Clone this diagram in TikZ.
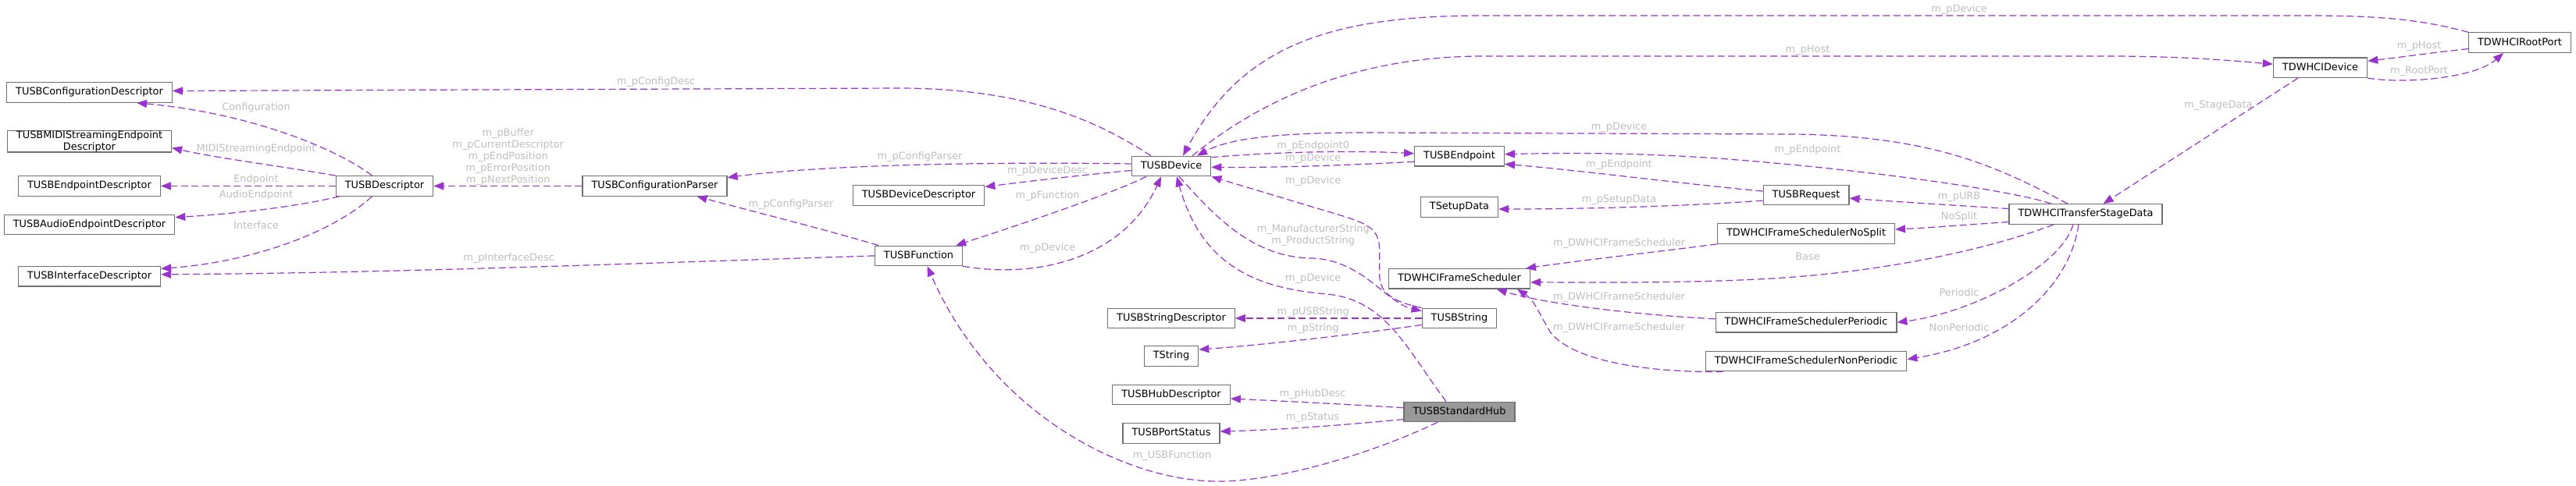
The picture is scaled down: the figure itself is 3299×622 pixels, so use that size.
\documentclass[tikz,border=0pt]{standalone}
\usepackage{fontspec}
\setmainfont{DejaVu Sans}
\usetikzlibrary{arrows.meta}
\definecolor{orchid}{HTML}{9A32CD}
\definecolor{lblgrey}{HTML}{BEBEBE}
\definecolor{border}{HTML}{707070}
\definecolor{curfill}{HTML}{999999}

\begin{document}
\begin{tikzpicture}[x=1pt, y=-1pt,
    every node/.style={font={\fontsize{12.9pt}{15pt}\selectfont}},
    box/.style={draw=border, line width=1.2pt, fill=white, inner xsep=11.5pt, inner ysep=0pt, minimum height=25.5pt},
    cls/.style={box, text height=9.5pt, text depth=2.6pt},
    cur/.style={fill=curfill},
    lbl/.style={text=lblgrey, inner sep=0pt, text height=9.5pt, text depth=2.6pt},
    lblm/.style={text=lblgrey, inner sep=0pt, align=center},
    dep/.style={draw=orchid, line width=1.2pt, dash pattern=on 9pt off 4.5pt, -{Triangle[length=13pt, width=10pt, fill=orchid]}}
]
\useasboundingbox (0,0) rectangle (3299,622);

\node[cls] (cfgdesc) at (114.5,118.5) {TUSBConfigurationDescriptor};
\node[box, align=center] (midi) at (114.5,181.2) {TUSBMIDIStreamingEndpoint\\Descriptor};
\node[cls] (epdesc) at (114.5,238.4) {TUSBEndpointDescriptor};
\node[cls] (audiodesc) at (114.5,288) {TUSBAudioEndpointDescriptor};
\node[cls] (ifdesc) at (114.5,354.3) {TUSBInterfaceDescriptor};
\node[cls] (desc) at (492.5,238.4) {TUSBDescriptor};
\node[cls] (parser) at (838.5,238.4) {TUSBConfigurationParser};
\node[cls] (devdesc) at (1176.5,250.4) {TUSBDeviceDescriptor};
\node[cls] (func) at (1176.5,327.9) {TUSBFunction};
\node[cls] (dev) at (1500,213) {TUSBDevice};
\node[cls] (strdesc) at (1500,408) {TUSBStringDescriptor};
\node[cls] (tstr) at (1500,456.4) {TString};
\node[cls] (hubdesc) at (1500,506) {TUSBHubDescriptor};
\node[cls] (portst) at (1500,555.4) {TUSBPortStatus};
\node[cls] (ep) at (1869,200.3) {TUSBEndpoint};
\node[cls] (setup) at (1869,265.5) {TSetupData};
\node[cls] (sched) at (1869,357.3) {TDWHCIFrameScheduler};
\node[cls] (usbstr) at (1869,408) {TUSBString};
\node[cls, cur] (hub) at (1869,528) {TUSBStandardHub};
\node[cls] (req) at (2313,250.1) {TUSBRequest};
\node[cls] (nosplit) at (2313,299.5) {TDWHCIFrameSchedulerNoSplit};
\node[cls] (periodic) at (2313,413.3) {TDWHCIFrameSchedulerPeriodic};
\node[cls] (nonper) at (2313,463) {TDWHCIFrameSchedulerNonPeriodic};
\node[cls] (stage) at (2671,274.5) {TDWHCITransferStageData};
\node[cls] (dwdev) at (2971.5,86.7) {TDWHCIDevice};
\node[cls] (root) at (3227,54.6) {TDWHCIRootPort};

\draw[dep] ([xshift=-26pt]dev.north) .. controls (1420,165) and (1330,113) .. (1150,113) -- ([yshift=2pt]cfgdesc.east);
\draw[dep] ([xshift=-16pt]desc.north) .. controls (430,190) and (320,145) .. ([xshift=60.5pt]cfgdesc.south);
\draw[dep] (desc.north west) .. controls (340,210) and (280,203) .. ([yshift=6pt]midi.south east);
\draw[dep] (desc.west) -- (epdesc.east);
\draw[dep] ([xshift=5pt]desc.south west) .. controls (380,265) and (300,274) .. ([yshift=-4pt]audiodesc.north east);
\draw[dep] ([xshift=-16pt]desc.south) .. controls (430,295) and (330,335) .. ([yshift=-3.5pt]ifdesc.north east);
\draw[dep] (func.west) .. controls (800,338) and (500,350) .. ([yshift=2.5pt]ifdesc.east);
\draw[dep] (parser.west) -- (desc.east);
\draw[dep] ([yshift=3pt]dev.west) .. controls (1250,207) and (1050,212) .. ([yshift=-2.5pt]parser.north east);
\draw[dep] ([xshift=5pt]func.north west) .. controls (1060,295) and (960,270) .. ([xshift=54pt]parser.south);
\draw[dep] ([yshift=-5.5pt]dev.west) .. controls (1380,225) and (1320,232) .. ([yshift=-2.5pt]devdesc.north east);
\draw[dep] ([xshift=-32pt]dev.south) .. controls (1420,250) and (1300,290) .. ([xshift=-9pt]func.north east);
\draw[dep] (func.south east) .. controls (1330,358) and (1440,330) .. ([xshift=-13pt]dev.south);
\draw[dep] ([yshift=-2pt]dev.north east) .. controls (1640,194) and (1740,193) .. ([yshift=3.5pt]ep.west);
\draw[dep] ([yshift=-7pt]ep.west) .. controls (1720,212) and (1640,215) .. ([yshift=-1.3pt]dev.east);
\draw[dep] (usbstr.north west) .. controls (1775,385) and (1766,370) .. (1766.7,350) -- (1766.7,320) .. controls (1766,295) and (1755,288) .. (1720,277) -- (dev.south east);
\draw[dep] ([xshift=10pt]dev.south) .. controls (1550,270) and (1600,330) .. (1680,331) .. controls (1745,333) and (1775,388) .. ([yshift=-4pt]usbstr.north west);
\draw[dep] ([xshift=-17pt]hub.north) .. controls (1800,445) and (1775,385) .. (1700,377) .. controls (1615,370) and (1540,345) .. ([xshift=7pt]dev.south);
\draw[dep] (usbstr.west) -- (strdesc.east);
\draw[dep] ([yshift=-8.5pt]usbstr.west) .. controls (1740,428) and (1620,442) .. ([yshift=-5pt]tstr.north east);
\draw[dep] ([yshift=5.3pt]hub.west) .. controls (1720,518) and (1640,514) .. ([yshift=-5pt]hubdesc.east);
\draw[dep] ([yshift=-9.5pt]hub.west) .. controls (1720,545) and (1640,551) .. ([yshift=2.4pt]portst.east);
\draw[dep] ([xshift=-28pt]hub.south) .. controls (1760,580) and (1640,617) .. (1560,617) .. controls (1440,617) and (1270,530) .. ([xshift=11pt]func.south);
\draw[dep] (root.north west) .. controls (3100,25) and (3050,20) .. (2950,20) -- (1900,20) .. controls (1700,20) and (1590,60) .. ([xshift=15pt]dev.north);
\draw[dep] ([xshift=27pt]dev.north) .. controls (1600,140) and (1720,72) .. (1900,72) -- (2700,72) .. controls (2800,72) and (2860,78) .. ([yshift=4.5pt]dwdev.west);
\draw[dep] ([yshift=-8pt]root.west) .. controls (3110,68) and (3070,74) .. ([yshift=8.5pt]dwdev.east);
\draw[dep] (dwdev.south east) .. controls (3080,108) and (3170,100) .. ([xshift=-21pt]root.south);
\draw[dep] ([xshift=-28.5pt]dwdev.south) -- ([xshift=22.6pt]stage.north);
\draw[dep] ([xshift=-23pt]stage.north) .. controls (2560,215) and (2480,175) .. (2300,172) -- (1750,170) .. controls (1620,170) and (1570,180) .. ([xshift=33pt]dev.north);
\draw[dep] ([xshift=-44pt]stage.north) .. controls (2580,245) and (2400,218) .. (2200,203) .. controls (2080,195) and (2000,196) .. ([yshift=2.6pt]ep.east);
\draw[dep] ([yshift=5pt]req.west) .. controls (2150,235) and (2020,218) .. ([yshift=-10pt]ep.east);
\draw[dep] ([yshift=-7pt]req.west) .. controls (2150,265) and (2020,268) .. ([yshift=-2.5pt]setup.east);
\draw[dep] ([yshift=7pt]stage.west) .. controls (2500,263) and (2420,258) .. ([yshift=-4pt]req.east);
\draw[dep] ([yshift=-10pt]stage.west) .. controls (2520,288) and (2470,292) .. ([yshift=5.5pt]nosplit.east);
\draw[dep] (nosplit.south west) .. controls (2130,322) and (2030,333) .. ([xshift=-6pt]sched.north east);
\draw[dep] ([xshift=-41pt]stage.south) .. controls (2560,315) and (2420,350) .. (2250,358) .. controls (2150,363) and (2050,362) .. ([yshift=-4.5pt]sched.east);
\draw[dep] ([yshift=4.5pt]periodic.west) .. controls (2100,404) and (1980,390) .. ([xshift=47.7pt]sched.south);
\draw[dep] ([xshift=23pt]nonper.south west) .. controls (2100,478) and (2010,460) .. (1985,425) .. controls (1970,400) and (1965,385) .. ([xshift=74pt]sched.south);
\draw[dep] ([xshift=-16pt]stage.south) .. controls (2640,340) and (2530,400) .. (periodic.east);
\draw[dep] ([xshift=-9pt]stage.south) .. controls (2650,370) and (2570,440) .. ([yshift=2.5pt]nonper.east);

\node[lbl] (l1) at (840,104.8) {m\_pConfigDesc};
\node[lbl] (l2) at (328,138.5) {Configuration};
\node[lbl] (l3) at (328,191) {MIDIStreamingEndpoint};
\node[lbl] (l4) at (328,230.3) {Endpoint};
\node[lbl] (l5) at (328,250) {AudioEndpoint};
\node[lbl] (l6) at (328,289.8) {Interface};
\node[lbl] (l7) at (651.6,331) {m\_pInterfaceDesc};
\node[lblm] (l8) at (650.7,200.9) {m\_pBuffer\\m\_pCurrentDescriptor\\m\_pEndPosition\\m\_pErrorPosition\\m\_pNextPosition};
\node[lbl] (l9) at (1178,200.7) {m\_pConfigParser};
\node[lbl] (l10) at (1013,262.3) {m\_pConfigParser};
\node[lbl] (l11) at (1341.6,219) {m\_pDeviceDesc};
\node[lbl] (l12) at (1341.6,251.3) {m\_pFunction};
\node[lbl] (l13) at (1341.7,318.3) {m\_pDevice};
\node[lbl] (l14) at (1681.7,186.7) {m\_pEndpoint0};
\node[lbl] (l15) at (1681.7,203.3) {m\_pDevice};
\node[lbl] (l16) at (1681.7,231.7) {m\_pDevice};
\node[lblm] (l17) at (1681.7,301.6) {m\_ManufacturerString\\m\_ProductString};
\node[lbl] (l18) at (1681.7,356.7) {m\_pDevice};
\node[lbl] (l19) at (1681.7,400) {m\_pUSBString};
\node[lbl] (l20) at (1681.7,421) {m\_pString};
\node[lbl] (l21) at (1681,505.4) {m\_pHubDesc};
\node[lbl] (l22) at (1681,534.8) {m\_pStatus};
\node[lbl] (l23) at (1501,584) {m\_USBFunction};
\node[lbl] (l24) at (2509,12) {m\_pDevice};
\node[lbl] (l25) at (2315,64) {m\_pHost};
\node[lbl] (l26) at (3098,58.8) {m\_pHost};
\node[lbl] (l27) at (3098,90.9) {m\_RootPort};
\node[lbl] (l28) at (2841,135.4) {m\_StageData};
\node[lbl] (l29) at (2073.5,163) {m\_pDevice};
\node[lbl] (l30) at (2315,192.5) {m\_pEndpoint};
\node[lbl] (l31) at (2073.5,211.2) {m\_pEndpoint};
\node[lbl] (l32) at (2073.5,256.5) {m\_pSetupData};
\node[lbl] (l33) at (2509,252.5) {m\_pURB};
\node[lbl] (l34) at (2509,278) {NoSplit};
\node[lbl] (l35) at (2073.5,311.6) {m\_DWHCIFrameScheduler};
\node[lbl] (l36) at (2315,330) {Base};
\node[lbl] (l37) at (2073.5,381) {m\_DWHCIFrameScheduler};
\node[lbl] (l38) at (2509,376.4) {Periodic};
\node[lbl] (l39) at (2073.5,420) {m\_DWHCIFrameScheduler};
\node[lbl] (l40) at (2509,420.8) {NonPeriodic};
\end{tikzpicture}
\end{document}
